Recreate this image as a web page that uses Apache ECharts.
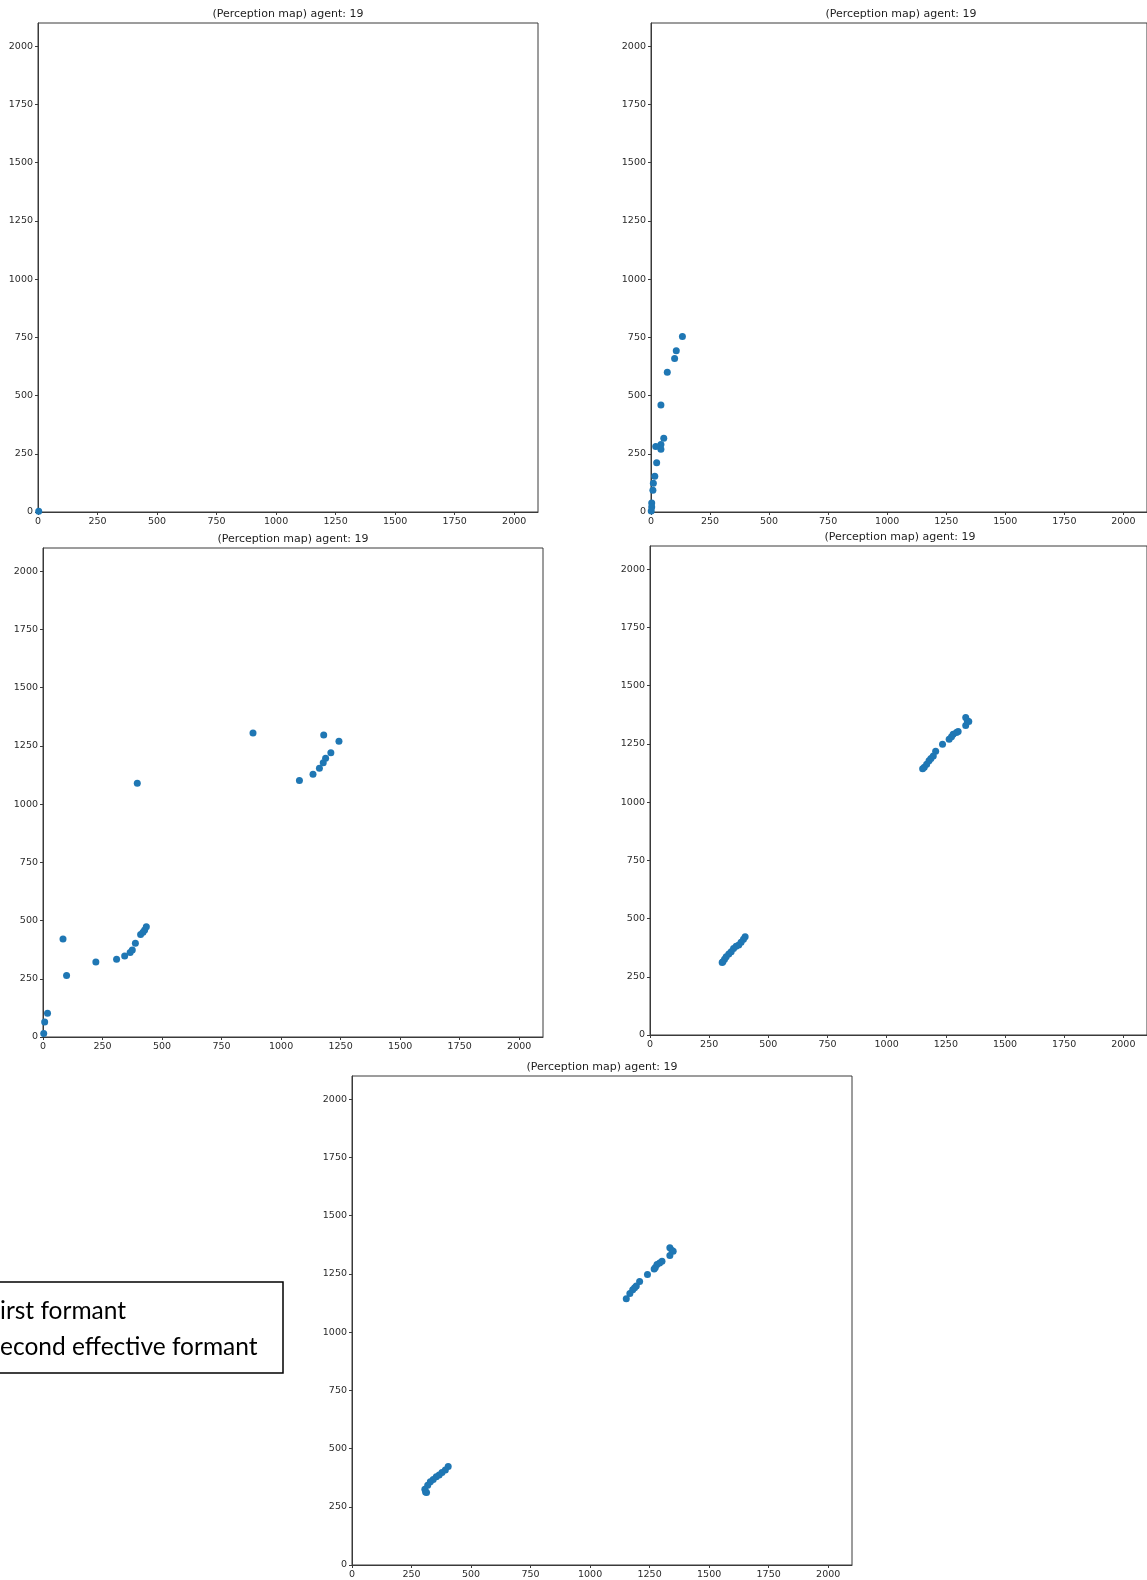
<!DOCTYPE html>
<html>
<head>
<meta charset="utf-8">
<script src="https://cdn.jsdelivr.net/npm/echarts@6/dist/echarts.min.js"></script>
<style>
  html, body { margin: 0; padding: 0; background: #ffffff; }
  #chart { width: 1147px; height: 1580px; }
</style>
</head>
<body>
<div id="chart"></div>
<script>
// Shared axis setup for all perception maps
const TICKS = [0, 250, 500, 750, 1000, 1250, 1500, 1750, 2000];
const AXIS_MAX = 2100;
const TITLE = '(Perception map) agent: 19';

// Perception map 1
const map1X = [3];
const map1Y = [3];

// Perception map 2
const map2X = [133, 107, 100, 69, 42, 54, 42, 42, 20, 24, 16, 10, 8, 3, 3, 1];
const map2Y = [754, 693, 659, 600, 459, 317, 290, 270, 281, 211, 154, 123, 93, 39, 21, 4];

// Perception map 3
const map3X = [882, 1179, 1243, 1209, 1187, 1177, 1161, 1134, 1077, 396, 84, 99, 222, 309, 343, 366, 375, 388, 410, 420, 427, 434, 19, 7, 3];
const map3Y = [1306, 1297, 1270, 1221, 1197, 1178, 1154, 1128, 1102, 1090, 421, 264, 322, 334, 348, 363, 374, 403, 440, 450, 460, 473, 102, 64, 15];

// Perception map 4
const map4X = [1334, 1341, 1347, 1334, 1302, 1295, 1281, 1274, 1264, 1236, 1207, 1197, 1187, 1179, 1169, 1159, 1152,
               402, 395, 385, 375, 364, 353, 343, 333, 322, 315, 308, 305];
const map4Y = [1363, 1349, 1346, 1329, 1303, 1299, 1292, 1281, 1270, 1249, 1219, 1198, 1187, 1178, 1163, 1150, 1143,
               422, 411, 398, 387, 381, 371, 358, 348, 336, 325, 315, 311];

// Perception map 5
const map5X = [1335, 1344, 1349, 1335, 1302, 1292, 1281, 1274, 1269, 1241, 1208, 1194, 1187, 1179, 1167, 1152,
               404, 392, 378, 366, 354, 341, 329, 318, 306, 309, 313];
const map5Y = [1362, 1351, 1347, 1329, 1304, 1297, 1290, 1278, 1271, 1248, 1217, 1198, 1191, 1182, 1166, 1143,
               423, 408, 397, 386, 379, 367, 357, 343, 325, 314, 311];

// Annotation box lines
const noteLines = ['irst formant', 'econd effective formant'];

const maps = [
  { xs: map1X, ys: map1Y, left: 38,  top: 23,   titleY: 14 },
  { xs: map2X, ys: map2Y, left: 651, top: 23,   titleY: 14 },
  { xs: map3X, ys: map3Y, left: 43,  top: 548,  titleY: 539 },
  { xs: map4X, ys: map4Y, left: 650, top: 546,  titleY: 537 },
  { xs: map5X, ys: map5Y, left: 352, top: 1076, titleY: 1067 }
];
const PLOT_W = 500, PLOT_H = 489;
const AXIS_COLOR = '#3a3a3a';
const LABEL_COLOR = '#2b2b2b';
const DOT_COLOR = '#1f77b4';

function makeAxis(gridIndex) {
  return {
    type: 'value',
    gridIndex: gridIndex,
    min: 0,
    max: AXIS_MAX,
    splitLine: { show: false },
    axisLine: { show: true, onZero: false, lineStyle: { color: AXIS_COLOR, width: 1 } },
    axisTick: { show: true, length: 3, customValues: TICKS, lineStyle: { color: AXIS_COLOR, width: 1 } },
    axisLabel: {
      show: true, customValues: TICKS, margin: 5,
      formatter: v => String(v),
      color: LABEL_COLOR, fontFamily: 'DejaVu Sans', fontSize: 9.5
    }
  };
}

const grid = [], xAxis = [], yAxis = [], series = [], graphic = [];
maps.forEach((m, i) => {
  grid.push({
    left: m.left, top: m.top, width: PLOT_W, height: PLOT_H,
    show: true, borderColor: AXIS_COLOR, borderWidth: 1, backgroundColor: '#ffffff'
  });
  xAxis.push(makeAxis(i));
  yAxis.push(makeAxis(i));
  series.push({
    type: 'scatter',
    xAxisIndex: i, yAxisIndex: i,
    symbol: 'circle', symbolSize: 7,
    itemStyle: { color: DOT_COLOR, opacity: 1 },
    emphasis: { disabled: true },
    silent: true,
    data: m.xs.map((x, k) => [x, m.ys[k]])
  });
  graphic.push({
    type: 'text',
    x: m.left + PLOT_W / 2, y: m.titleY,
    style: {
      text: TITLE,
      fill: '#1e1e1e', font: '11px "DejaVu Sans"',
      textAlign: 'center', textVerticalAlign: 'middle'
    },
    z: 10
  });
});

// Annotation box at the lower left
graphic.push({
  type: 'rect',
  shape: { x: -10, y: 1282, width: 293, height: 91 },
  style: { fill: '#ffffff', stroke: '#000000', lineWidth: 1.5 },
  z: 10
});
noteLines.forEach((line, k) => {
  graphic.push({
    type: 'text',
    x: 0, y: 1311 + k * 36,
    style: {
      text: line, fill: '#000000',
      font: '24.5px Lato', textAlign: 'left', textVerticalAlign: 'middle'
    },
    z: 11
  });
});

const chart = echarts.init(document.getElementById('chart'), null, { renderer: 'canvas', width: 1147, height: 1580 });
chart.setOption({
  backgroundColor: '#ffffff',
  animation: false,
  grid: grid,
  xAxis: xAxis,
  yAxis: yAxis,
  series: series,
  graphic: graphic
});
</script>
</body>
</html>
